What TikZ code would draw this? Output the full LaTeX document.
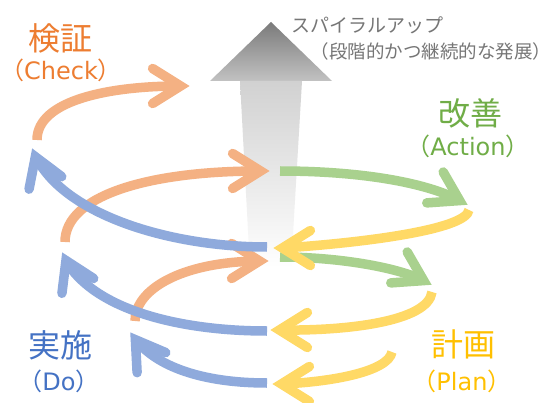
\documentclass[tikz,border=0pt]{standalone}
\usepackage{fontspec}
\newfontfamily\jp{Noto Sans CJK JP}
\newfontfamily\lat{DejaVu Sans}
\newcommand\lparen{\makebox[0.5em][r]{（}}
\newcommand\rparen{\makebox[0.5em][l]{）}}
\definecolor{orA}{HTML}{F4B183}
\definecolor{blA}{HTML}{8FAADC}
\definecolor{grA}{HTML}{A9D18E}
\definecolor{yeA}{HTML}{FFD966}
\definecolor{orT}{HTML}{ED7D31}
\definecolor{blT}{HTML}{4472C4}
\definecolor{grT}{HTML}{70AD47}
\definecolor{yeT}{HTML}{FFC000}
\definecolor{gyT}{HTML}{767676}
\tikzset{
  band/.style={line width=9.5pt, line cap=butt},
  chev/.pic={\draw[line width=9.5pt, line cap=round, line join=miter, miter limit=10]
     (-37.4,17.5) -- (-9.4,0) -- (-37.4,-17.5);},
  big/.style={inner sep=0pt, font=\jp\fontsize{32}{36}\selectfont},
  small/.style={inner sep=0pt, font=\jp\fontsize{24}{28}\selectfont},
  spiral/.style={inner sep=0pt, anchor=west, text=gyT, font=\jp\fontsize{18.5}{22}\selectfont},
}
\begin{document}
\begin{tikzpicture}[x=1pt,y=-1pt]
\fill[white] (0,0) rectangle (553,403);
\useasboundingbox (0,0) rectangle (553,403);
% gray upward arrow
\shade[top color=black!52, bottom color=black!24] (271,22) -- (332,81) -- (210,81) -- cycle;
\shade[top color=black!18, middle color=black!6, bottom color=white] (240,81) -- (302,81) -- (291,268) -- (250,268) -- cycle;
% orange (Check)
\draw[band, orA] (37,140) .. controls (37,100) and (110,86) .. (180,86);
\pic[color=orA] at (190,86) {chev};
\draw[band, orA] (65,242) .. controls (65,195) and (150,171) .. (260,171);
\pic[color=orA] at (270,171) {chev};
\draw[band, orA] (135,321) .. controls (135,290) and (180,262) .. (259,261);
\pic[color=orA] at (269,261) {chev};
% blue (Do)
\draw[band, blA] (267,247) .. controls (170,247) and (65,215) .. (36,157);
\pic[color=blA, rotate=111] at (32,148) {chev};
\draw[band, blA] (267,331) .. controls (180,331) and (95,310) .. (66,261);
\pic[color=blA, rotate=115] at (62,252) {chev};
\draw[band, blA] (267,383) .. controls (210,383) and (160,370) .. (136,340);
\pic[color=blA, rotate=125] at (130,332) {chev};
% green (Action)
\draw[band, grA] (280,171) .. controls (350,171) and (420,180) .. (459,200);
\pic[color=grA, rotate=-28] at (468,205) {chev};
\draw[band, grA] (280,257) .. controls (330,257) and (390,265) .. (423,280);
\pic[color=grA, rotate=-28] at (432,285) {chev};
% yellow (Plan)
\draw[band, yeA] (469,210) .. controls (466,230) and (360,243) .. (283,248);
\pic[color=yeA, rotate=180] at (273,248) {chev};
\draw[band, yeA] (432,292) .. controls (428,322) and (345,331) .. (280,330);
\pic[color=yeA, rotate=180] at (270,330) {chev};
\draw[band, yeA] (392,352) .. controls (388,372) and (330,382) .. (282,384);
\pic[color=yeA, rotate=180] at (272,384) {chev};
% labels
\node[big, text=orT] (chk) at (60,38) {検証};
\node[small, text=orT] (chke) at (61,70) {\lparen{\lat Check}\rparen};
\node[big, text=grT] (act) at (470,113) {改善};
\node[small, text=grT] (acte) at (468,146) {\lparen{\lat Action}\rparen};
\node[big, text=blT] (do) at (60,345) {実施};
\node[small, text=blT] (doe) at (59,381) {\lparen{\lat Do}\rparen};
\node[big, text=yeT] (pl) at (463,344) {計画};
\node[small, text=yeT] (ple) at (462,381) {\lparen{\lat Plan}\rparen};
\node[spiral, font=\jp\fontsize{19}{22}\selectfont] (sp1) at (291,25) {スパイラルアップ};
\node[spiral] (sp2) at (320,51) {\lparen 段階的かつ継続的な発展\rparen};
\end{tikzpicture}
\end{document}
